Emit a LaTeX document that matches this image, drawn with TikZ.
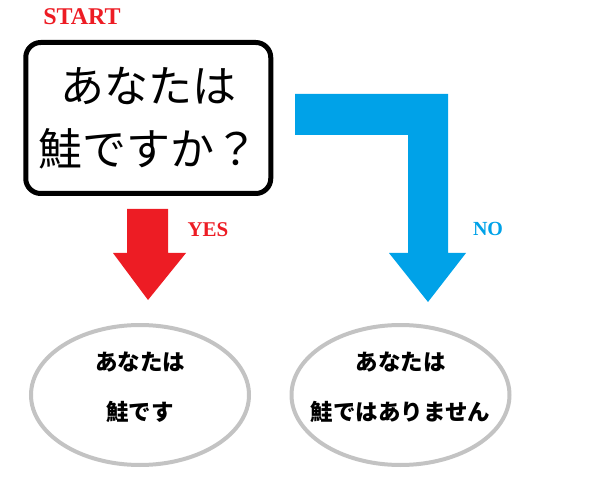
\documentclass[tikz,border=0pt]{standalone}
\usepackage{fontspec}
\setmainfont{Liberation Serif}
\newfontfamily\jpfont{Noto Sans CJK JP}
\usetikzlibrary{shapes.geometric}
\definecolor{YesClr}{RGB}{237,28,36}
\definecolor{NoClr}{RGB}{0,162,232}
\definecolor{RingClr}{RGB}{195,195,195}

\begin{document}
\begin{tikzpicture}[x=1pt,y=1pt,
  question/.style={draw=black,line width=5pt,rounded corners=15pt,
    minimum width=245pt,minimum height=151pt,align=center,
    font=\jpfont\fontsize{44}{63}\selectfont},
  answer/.style={draw=RingClr,line width=4pt,ellipse,
    minimum width=218pt,minimum height=140pt,inner sep=0pt},
  answertext/.style={align=center,font=\jpfont\bfseries\fontsize{22.5}{50}\selectfont},
  tag/.style={font=\bfseries\fontsize{#1}{#1}\selectfont}]
\useasboundingbox (0,0) rectangle (600,480);

\coordinate (Y1) at (127,271);
\coordinate (Y2) at (168,271);
\coordinate (Y3) at (168,227);
\coordinate (Y4) at (186,227);
\coordinate (YT) at (148,180);
\coordinate (Y5) at (113,227);
\coordinate (Y6) at (127,227);

\coordinate (N1) at (295,386);
\coordinate (N2) at (448,386);
\coordinate (N3) at (448,227);
\coordinate (N4) at (466,227);
\coordinate (NT) at (428,178);
\coordinate (N5) at (389,227);
\coordinate (N6) at (408,227);
\coordinate (N7) at (408,345);
\coordinate (N8) at (295,345);

\fill[YesClr] (Y1) -- (Y2) -- (Y3) -- (Y4) -- (YT) -- (Y5) -- (Y6) -- cycle;
\fill[NoClr] (N1) -- (N2) -- (N3) -- (N4) -- (NT) -- (N5) -- (N6) -- (N7) -- (N8) -- cycle;

\node[question] (Q) at (148.25,362) {あなたは\\鮭ですか？};

\node[answer] (A) at (140,85) {};
\node[answer] (B) at (400.5,85) {};
\node[answertext] (At) at ([yshift=8pt]A.center) {あなたは\\鮭です};
\node[answertext] (Bt) at ([yshift=8pt]B.center) {あなたは\\鮭ではありません};

\node[tag=24,text=YesClr] (start) at (82,463) {START};
\node[tag=21,text=YesClr] (yes) at (208,250) {YES};
\node[tag=20,text=NoClr] (no) at (488,251) {NO};

\end{tikzpicture}
\end{document}
